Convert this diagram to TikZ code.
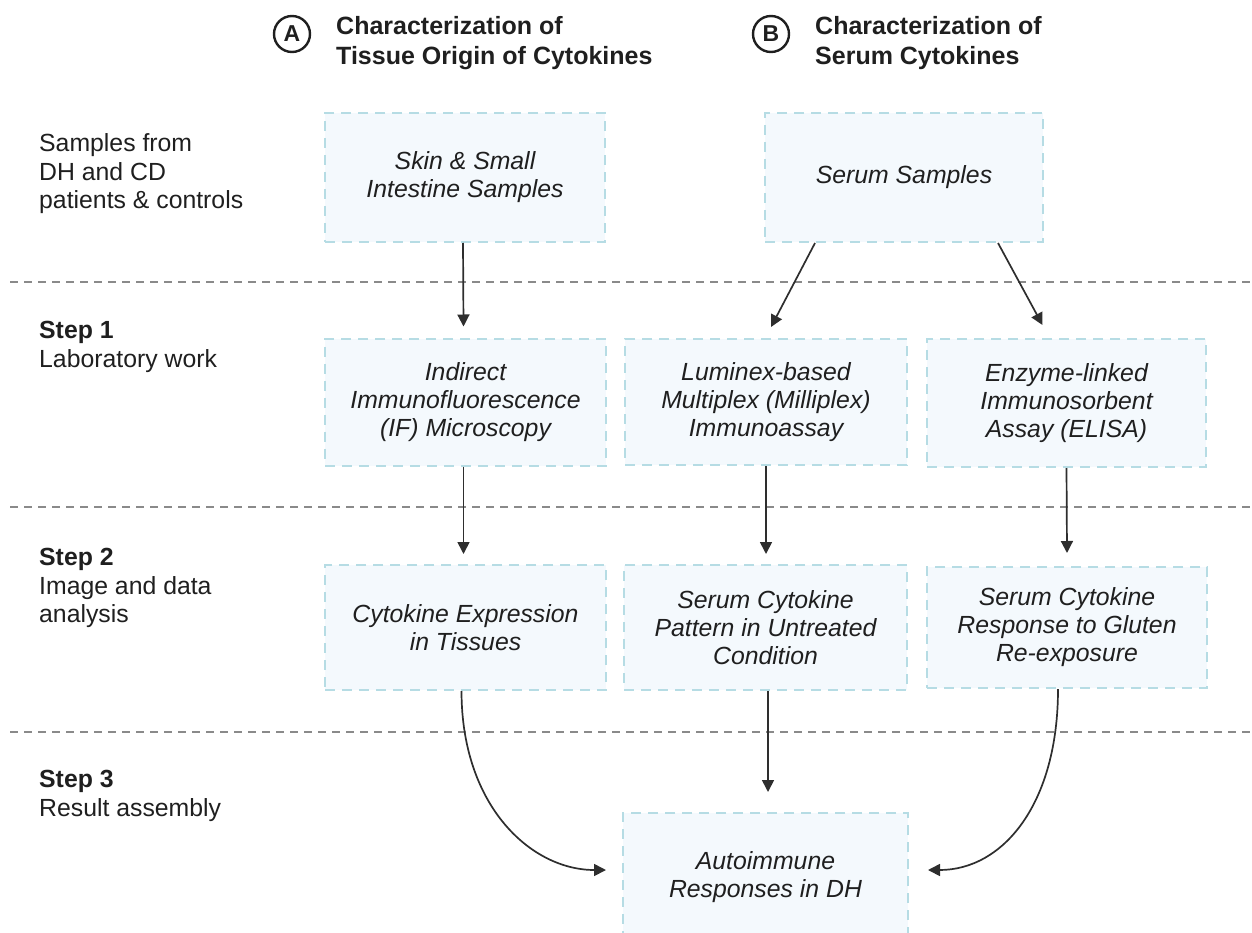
\documentclass[tikz,border=0pt]{standalone}
\usepackage{fontspec}
\setmainfont{Liberation Sans}
\usetikzlibrary{arrows.meta}
\definecolor{txt}{HTML}{1F1F1F}
\definecolor{boxfill}{HTML}{F4F9FD}
\definecolor{boxline}{HTML}{B6DCE4}
\definecolor{sepline}{HTML}{8A8A8A}
\definecolor{arr}{HTML}{2E2E2E}
\begin{document}
\begin{tikzpicture}[x=1pt,y=1pt,
  every node/.style={text=txt},
  stepbox/.style={draw=boxline, line width=2pt, dash pattern=on 10pt off 7pt,
    fill=boxfill, inner sep=0pt, minimum width=281pt, minimum height=127pt,
    align=center, font=\fontsize{24.8}{28}\selectfont\itshape},
  sidelabel/.style={anchor=west, align=left, inner sep=0pt,
    font=\fontsize{24.8}{28.5}\selectfont},
  headlabel/.style={anchor=west, align=left, inner sep=0pt,
    font=\fontsize{25}{30}\selectfont\bfseries},
  letter/.style={circle, draw=txt, line width=2.4pt, minimum size=36pt, inner sep=0pt,
    font=\fontsize{23}{26}\selectfont\bfseries},
  sep/.style={draw=sepline, line width=2pt, dash pattern=on 8pt off 6pt},
  flow/.style={draw=arr, line width=1.7pt, -{Triangle[length=12pt,width=12pt]}}
]
\useasboundingbox (0,0) rectangle (1252,-933);

% separators
\coordinate (s1a) at (10,-282); \coordinate (s1b) at (1252,-282);
\coordinate (s2a) at (10,-507); \coordinate (s2b) at (1252,-507);
\coordinate (s3a) at (10,-732); \coordinate (s3b) at (1252,-732);
\draw[sep] (s1a) -- (s1b);
\draw[sep] (s2a) -- (s2b);
\draw[sep] (s3a) -- (s3b);

% headers
\node[letter] (la) at (292,-34) {A};
\node[headlabel] (ha) at (336,-43) {Characterization of\\Tissue Origin of Cytokines};
\node[letter] (lb) at (771,-34) {B};
\node[headlabel] (hb) at (815,-43) {Characterization of\\Serum Cytokines};

% side labels
\node[sidelabel] (l0) at (39,-174) {Samples from\\DH and CD\\patients \& controls};
\node[sidelabel] (l1) at (39,-347) {\textbf{Step 1}\\Laboratory work};
\node[sidelabel] (l2) at (39,-588) {\textbf{Step 2}\\Image and data\\analysis};
\node[sidelabel] (l3) at (39,-796) {\textbf{Step 3}\\Result assembly};

% boxes
\node[stepbox, minimum width=280pt, minimum height=129pt] (skin) at (465,-177.5) {Skin \& Small\\Intestine Samples};
\node[stepbox, minimum width=278pt, minimum height=129pt] (serum) at (904,-177.5) {Serum Samples};
\node[stepbox] (ifm) at (465.5,-402) {Indirect\\Immunofluorescence\\(IF) Microscopy};
\node[stepbox, minimum width=282pt, minimum height=126pt] (lum) at (766,-402) {Luminex-based\\Multiplex (Milliplex)\\Immunoassay};
\node[stepbox, minimum width=279pt, minimum height=128pt] (elisa) at (1066.5,-403) {Enzyme-linked\\Immunosorbent\\Assay (ELISA)};
\node[stepbox, minimum height=125pt] (cyto) at (465.5,-627.5) {Cytokine Expression\\in Tissues};
\node[stepbox, minimum width=283pt, minimum height=125pt] (patt) at (765.5,-627.5) {Serum Cytokine\\Pattern in Untreated\\Condition};
\node[stepbox, minimum width=280pt, minimum height=121pt] (resp) at (1067,-627.5) {Serum Cytokine\\Response to Gluten\\Re-exposure};
\node[stepbox, minimum width=285pt, minimum height=128pt] (auto) at (765.5,-877) {Autoimmune\\Responses in DH};

% arrows
\draw[flow] ([xshift=-2pt]skin.south) -- ([xshift=-2pt,yshift=11pt]ifm.north);
\draw[flow] ([xshift=-89pt]serum.south) -- ([xshift=5pt,yshift=11pt]lum.north);
\draw[flow] ([xshift=94pt]serum.south) -- ([xshift=-24pt,yshift=13pt]elisa.north);
\draw[flow] ([xshift=-2pt]ifm.south) -- ([xshift=-2pt,yshift=10pt]cyto.north);
\draw[flow] (lum.south) -- ([xshift=0.5pt,yshift=10pt]patt.north);
\draw[flow] (elisa.south) -- ([yshift=13pt]resp.north);
\draw[flow] ([xshift=2.5pt]patt.south) -- ([xshift=2.5pt,yshift=20pt]auto.north);
\draw[flow] ([xshift=-4pt]cyto.south) .. controls +(0,-115) and +(-75,0) .. ([xshift=-16pt,yshift=7pt]auto.west);
\draw[flow] ([xshift=-9pt]resp.south) .. controls +(0,-115) and +(75,0) .. ([xshift=19pt,yshift=7pt]auto.east);
\end{tikzpicture}
\end{document}
